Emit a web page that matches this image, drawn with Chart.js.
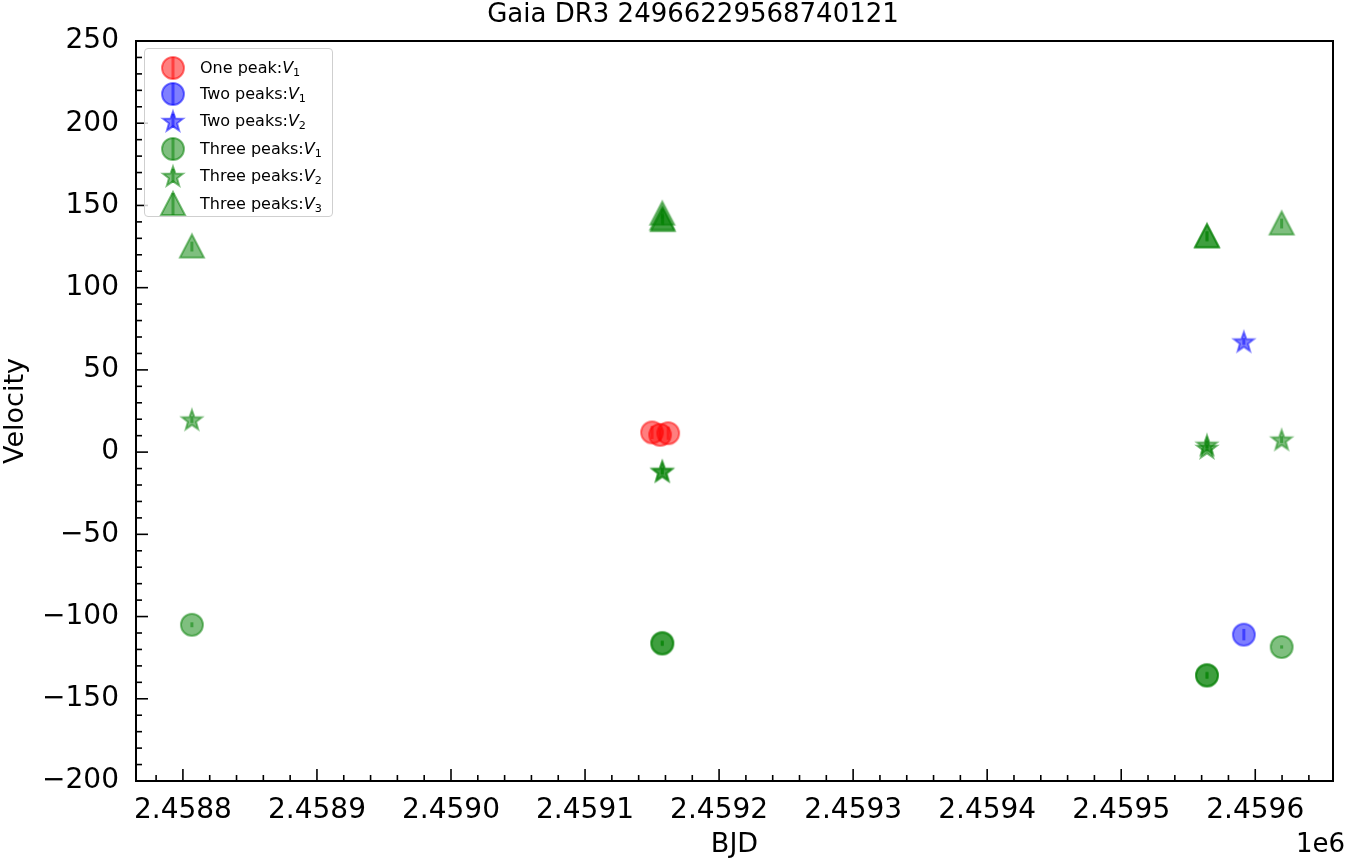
<!DOCTYPE html>
<html>
<head>
<meta charset="utf-8">
<script src="https://cdn.jsdelivr.net/npm/chart.js@4.4.0/dist/chart.umd.min.js"></script>
<style>
  html, body { margin: 0; padding: 0; background: #fff; }
  #wrap { position: relative; width: 1346px; height: 863px; }
  #legend {
    position: absolute; left: 144px; top: 48px; width: 189px; height: 169px;
    box-sizing: border-box; border: 1px solid #cfcfcf; border-radius: 4px;
    background: rgba(255,255,255,0.8);
    font-family: 'DejaVu Sans', sans-serif; font-size: 16px; color: #000;
  }
  .row { position: absolute; left: 0; height: 28px; display: flex; align-items: center; white-space: nowrap; }
  .row canvas { margin-left: 13px; margin-right: 12px; }
  .row sub { font-size: 0.7em; vertical-align: -0.25em; }
</style>
</head>
<body>
<div id="wrap">
  <canvas id="chart" width="1346" height="863"></canvas>
  <div id="legend"></div>
</div>
<script>
// ── Data ───────────────────────────────────────────────
const titleText = 'Gaia DR3 24966229568740121';
const xTickValues = [2458800, 2458900, 2459000, 2459100, 2459200, 2459300, 2459400, 2459500, 2459600];
const yTickValues = [-200, -150, -100, -50, 0, 50, 100, 150, 200, 250];

const onePeakV1X   = [2459150, 2459156, 2459162];
const onePeakV1Y   = [12, 10.5, 11.5];
const onePeakV1Err = [4, 4, 4];

const twoPeakV1X   = [2459591.5];
const twoPeakV1Y   = [-111];
const twoPeakV1Err = [3.5];

const twoPeakV2X   = [2459591.5];
const twoPeakV2Y   = [67.3];
const twoPeakV2Err = [2];

const threePeakV1X   = [2458806.7, 2459157.6, 2459157.6, 2459564, 2459564, 2459619.7];
const threePeakV1Y   = [-105, -116, -116.5, -135.5, -136, -118.5];
const threePeakV1Err = [1.5, 1.5, 1.5, 2, 2, 1];

const threePeakV2X   = [2458806.7, 2459157.6, 2459157.6, 2459564, 2459564, 2459619.7];
const threePeakV2Y   = [19.8, -11.3, -11.8, 4.5, 2.5, 7.6];
const threePeakV2Err = [2, 2, 2, 2, 2, 2];

const threePeakV3X   = [2458806.7, 2459157.6, 2459157.6, 2459158, 2459564, 2459564, 2459619.7];
const threePeakV3Y   = [125, 145, 142, 141, 131.5, 131, 139];
const threePeakV3Err = [3, 3, 3, 3, 3, 3, 3];

const RED = '255,0,0', BLUE = '0,0,255', GREEN = '0,128,0';

// ── Marker images ──────────────────────────────────────
function starPath(g, cx, cy, R, r) {
  g.beginPath();
  for (let i = 0; i < 10; i++) {
    const rad = i % 2 === 0 ? R : r;
    const a = -Math.PI / 2 + i * Math.PI / 5;
    const px = cx + rad * Math.cos(a), py = cy + rad * Math.sin(a);
    if (i === 0) g.moveTo(px, py); else g.lineTo(px, py);
  }
  g.closePath();
}

function markerCanvas(kind, rgb, withBar) {
  const size = 30, m = size / 2;
  const c = document.createElement('canvas');
  c.width = size; c.height = size;
  const g = c.getContext('2d');
  const col = `rgba(${rgb},0.5)`;
  g.fillStyle = col; g.strokeStyle = col; g.lineWidth = 2;
  if (kind === 'circle') {
    g.beginPath(); g.arc(m, m, 11, 0, Math.PI * 2); g.fill(); g.stroke();
  } else if (kind === 'star') {
    starPath(g, m, m + 1, 10.5, 4.3); g.fill(); g.stroke();
  } else {
    g.beginPath(); g.moveTo(m, m - 12); g.lineTo(m - 12, m + 11); g.lineTo(m + 12, m + 11);
    g.closePath(); g.fill(); g.stroke();
  }
  if (withBar) {
    g.lineWidth = 3;
    const h = kind === 'star' ? 7 : 11;
    g.beginPath(); g.moveTo(m, m - h); g.lineTo(m, m + h); g.stroke();
  }
  return c;
}

const series = [
  { label: 'One peak:',    sub: '1', kind: 'circle',   rgb: RED,   xs: onePeakV1X,   ys: onePeakV1Y,   err: onePeakV1Err },
  { label: 'Two peaks:',   sub: '1', kind: 'circle',   rgb: BLUE,  xs: twoPeakV1X,   ys: twoPeakV1Y,   err: twoPeakV1Err },
  { label: 'Two peaks:',   sub: '2', kind: 'star',     rgb: BLUE,  xs: twoPeakV2X,   ys: twoPeakV2Y,   err: twoPeakV2Err },
  { label: 'Three peaks:', sub: '1', kind: 'circle',   rgb: GREEN, xs: threePeakV1X, ys: threePeakV1Y, err: threePeakV1Err },
  { label: 'Three peaks:', sub: '2', kind: 'star',     rgb: GREEN, xs: threePeakV2X, ys: threePeakV2Y, err: threePeakV2Err },
  { label: 'Three peaks:', sub: '3', kind: 'triangle', rgb: GREEN, xs: threePeakV3X, ys: threePeakV3Y, err: threePeakV3Err },
];

// ── Legend (HTML, inside plot) ─────────────────────────
const legendRowsY = [5, 31, 58, 86, 113, 141];
const legendEl = document.getElementById('legend');
series.forEach((s, i) => {
  const row = document.createElement('div');
  row.className = 'row';
  row.style.top = legendRowsY[i] + 'px';
  row.appendChild(markerCanvas(s.kind, s.rgb, true));
  const span = document.createElement('span');
  span.innerHTML = `${s.label}<i>V</i><sub>${s.sub}</sub>`;
  row.appendChild(span);
  legendEl.appendChild(row);
});

// ── Plugins ────────────────────────────────────────────
const errorBars = {
  id: 'errorBars',
  beforeDatasetsDraw(chart) {
    const { ctx, scales: { x, y } } = chart;
    chart.data.datasets.forEach(ds => {
      ctx.save();
      ctx.strokeStyle = ds.errColor;
      ctx.lineWidth = 3;
      ds.data.forEach((p, i) => {
        const e = ds.yErr[i];
        const px = x.getPixelForValue(p.x);
        ctx.beginPath();
        ctx.moveTo(px, y.getPixelForValue(p.y - e));
        ctx.lineTo(px, y.getPixelForValue(p.y + e));
        ctx.stroke();
      });
      ctx.restore();
    });
  },
};

const frameTicks = {
  id: 'frameTicks',
  afterDraw(chart) {
    const { ctx, chartArea: a, scales: { x, y } } = chart;
    ctx.save();
    ctx.strokeStyle = '#000';
    ctx.lineWidth = 1.6;
    const tick = (x1, y1, x2, y2) => { ctx.beginPath(); ctx.moveTo(x1, y1); ctx.lineTo(x2, y2); ctx.stroke(); };
    // x ticks inward (major every 100, minor every 20)
    for (let v = 2458780; v <= 2459658; v += 20) {
      const px = x.getPixelForValue(v);
      if (px < a.left || px > a.right) continue;
      tick(px, a.bottom, px, a.bottom - (v % 100 === 0 ? 12 : 6));
    }
    // y ticks inward (major every 50, minor every 10)
    for (let v = -200; v <= 250; v += 10) {
      const py = y.getPixelForValue(v);
      tick(a.left, py, a.left + (v % 50 === 0 ? 12 : 6), py);
    }
    ctx.lineWidth = 2;
    ctx.strokeRect(a.left, a.top, a.right - a.left, a.bottom - a.top);
    ctx.fillStyle = '#000';
    ctx.textBaseline = 'middle';
    // title
    ctx.font = "26px 'DejaVu Sans'";
    ctx.textAlign = 'center';
    ctx.fillText(titleText, 693, 15);
    // offset text
    ctx.textAlign = 'right';
    ctx.fillText('1e6', 1345, 845);
    ctx.restore();
  },
};

// ── Chart ──────────────────────────────────────────────
const FONT = "'DejaVu Sans', sans-serif";

new Chart(document.getElementById('chart'), {
  type: 'scatter',
  data: {
    datasets: series.map(s => ({
      label: s.label + 'V' + s.sub,
      data: s.xs.map((xv, i) => ({ x: xv, y: s.ys[i] })),
      yErr: s.err,
      errColor: `rgba(${s.rgb},0.5)`,
      pointStyle: markerCanvas(s.kind, s.rgb, false),
      pointRadius: 12,
      pointHoverRadius: 12,
    })),
  },
  options: {
    responsive: false,
    animation: false,
    layout: { padding: { left: 0, right: 4, top: 41, bottom: 0 } },
    plugins: {
      legend: { display: false },
      tooltip: { enabled: false },
      title: { display: false },
    },
    scales: {
      x: {
        type: 'linear',
        min: 2458765,
        max: 2459658,
        grid: { display: false },
        border: { display: false },
        afterBuildTicks: sc => { sc.ticks = xTickValues.map(v => ({ value: v })); },
        afterFit: sc => { sc.height = 82; },
        ticks: {
          color: '#000',
          padding: 5,
          maxRotation: 0,
          autoSkip: false,
          font: { family: FONT, size: 28 },
          callback: v => (v / 1e6).toFixed(4),
        },
        title: {
          display: true, text: 'BJD', color: '#000',
          font: { family: FONT, size: 27 },
          padding: { top: 0, bottom: 2 },
        },
      },
      y: {
        min: -200,
        max: 250,
        grid: { display: false },
        border: { display: false },
        afterBuildTicks: sc => { sc.ticks = yTickValues.map(v => ({ value: v })); },
        afterFit: sc => { sc.width = 136; },
        ticks: {
          color: '#000',
          padding: 9,
          font: { family: FONT, size: 28 },
          callback: v => String(v).replace('-', '\u2212'),
        },
        title: {
          display: true, text: 'Velocity', color: '#000',
          font: { family: FONT, size: 27 },
          padding: { top: 0, bottom: 0 },
        },
      },
    },
  },
  plugins: [errorBars, frameTicks],
});
</script>
</body>
</html>
